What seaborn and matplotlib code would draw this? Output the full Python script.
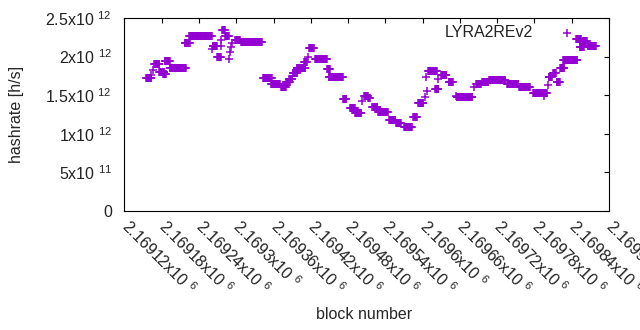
import numpy as np
import pandas as pd
import matplotlib
matplotlib.use("Agg")
import matplotlib.pyplot as plt
import seaborn as sns

# ---- data (plateaus of hashrate; values in 1e12 h/s) ----
seg_start = [2169155, 2169163, 2169166, 2169168, 2169176, 2169182, 2169185, 2169193,
             2169217, 2169224, 2169261, 2169262, 2169269, 2169275, 2169276, 2169277,
             2169282, 2169288, 2169290, 2169291, 2169293, 2169298, 2169308, 2169343,
             2169356, 2169372, 2169380, 2169385, 2169391, 2169397, 2169409, 2169416,
             2169417, 2169427, 2169446, 2169449, 2169472, 2169483, 2169491, 2169503,
             2169506, 2169512, 2169519, 2169528, 2169546, 2169557, 2169570, 2169585,
             2169593, 2169604, 2169605, 2169607, 2169609, 2169620, 2169625, 2169630,
             2169642, 2169653, 2169655, 2169682, 2169686, 2169696, 2169707, 2169736,
             2169755, 2169778, 2169796, 2169802, 2169803, 2169810, 2169816, 2169821,
             2169826, 2169847, 2169853, 2169858, 2169866]
seg_end = [2169163, 2169163, 2169166, 2169176, 2169184, 2169187, 2169193, 2169219,
           2169225, 2169261, 2169261, 2169269, 2169275, 2169275, 2169276, 2169282,
           2169288, 2169288, 2169290, 2169291, 2169293, 2169306, 2169341, 2169357,
           2169370, 2169380, 2169386, 2169390, 2169398, 2169411, 2169414, 2169416,
           2169425, 2169446, 2169451, 2169472, 2169477, 2169491, 2169501, 2169503,
           2169512, 2169515, 2169527, 2169544, 2169556, 2169565, 2169583, 2169591,
           2169601, 2169604, 2169605, 2169607, 2169623, 2169625, 2169625, 2169638,
           2169649, 2169653, 2169680, 2169682, 2169694, 2169706, 2169733, 2169754,
           2169773, 2169800, 2169796, 2169802, 2169808, 2169814, 2169821, 2169828,
           2169849, 2169855, 2169860, 2169864, 2169879]
seg_hashrate = [1.72, 1.76, 1.83, 1.90, 1.80, 1.775, 1.94, 1.85,
                2.18, 2.265, 2.095, 2.14, 1.99, 2.14, 2.215, 2.34,
                2.27, 1.97, 2.06, 2.12, 2.18, 2.215, 2.185, 1.72,
                1.64, 1.61, 1.675, 1.705, 1.785, 1.85, 1.935, 2.00,
                2.11, 1.965, 1.835, 1.73, 1.45, 1.33, 1.265, 1.425,
                1.495, 1.46, 1.35, 1.28, 1.18, 1.135, 1.09, 1.22,
                1.40, 1.48, 1.74, 1.56, 1.81, 1.575, 1.705, 1.76,
                1.665, 1.49, 1.475, 1.61, 1.645, 1.675, 1.70, 1.645,
                1.60, 1.53, 1.49, 1.63, 1.74, 1.79, 1.675, 1.855,
                1.95, 2.225, 2.13, 2.205, 2.135]
series_name = "LYRA2REv2"

x_ticks = [2169120, 2169180, 2169240, 2169300, 2169360, 2169420, 2169480,
           2169540, 2169600, 2169660, 2169720, 2169780, 2169840, 2169900]
x_tick_labels = ["2.16912x10 $^{6}$", "2.16918x10 $^{6}$", "2.16924x10 $^{6}$",
                 "2.1693x10 $^{6}$", "2.16936x10 $^{6}$", "2.16942x10 $^{6}$",
                 "2.16948x10 $^{6}$", "2.16954x10 $^{6}$", "2.1696x10 $^{6}$",
                 "2.16966x10 $^{6}$", "2.16972x10 $^{6}$", "2.16978x10 $^{6}$",
                 "2.16984x10 $^{6}$", "2.1699x10 $^{6}$"]
y_ticks = [0, 0.5e12, 1.0e12, 1.5e12, 2.0e12, 2.5e12]
y_tick_labels = ["0", "5x10 $^{11}$", "1x10 $^{12}$", "1.5x10 $^{12}$",
                 "2x10 $^{12}$", "2.5x10 $^{12}$"]

# one point per block inside each plateau
blocks, rates = [], []
for s, e, v in zip(seg_start, seg_end, seg_hashrate):
    for b in range(s, e + 1):
        blocks.append(b)
        rates.append(v * 1e12)
df = pd.DataFrame({"block": blocks, "hashrate": rates})

sns.set_style("white")
plt.rcParams.update({
    "font.family": ["Liberation Sans", "DejaVu Sans"],
    "font.size": 11.5,
    "mathtext.fontset": "custom",
    "mathtext.rm": "Liberation Sans",
    "mathtext.it": "Liberation Sans:italic",
    "mathtext.bf": "Liberation Sans:bold",
    "mathtext.default": "regular",
    "text.color": "#222222",
})

fig = plt.figure(figsize=(6.4, 3.3), dpi=100)
ax = fig.add_axes([0.1945, 0.3606, 0.757, 0.5848])

sns.scatterplot(data=df, x="block", y="hashrate", marker="+", s=38,
                color="#9400D3", linewidth=1.1, label=series_name, ax=ax)

ax.set_xlim(2169120, 2169900)
ax.set_ylim(0, 2.5e12)
ax.set_xticks(x_ticks)
ax.set_xticklabels(x_tick_labels, rotation=-45, ha="left", va="center",
                   rotation_mode="anchor", color="#222222")
ax.set_yticks(y_ticks)
ax.set_yticklabels(y_tick_labels, color="#222222")

for sp in ax.spines.values():
    sp.set_visible(True)
    sp.set_color("black")
    sp.set_linewidth(0.8)
ax.tick_params(axis="both", direction="in", length=3.5, width=0.8,
               top=True, right=True, colors="black", labelcolor="#222222")
ax.tick_params(axis="y", pad=9)
ax.tick_params(axis="x", pad=9)

ax.set_xlabel("block number")
ax.set_ylabel("hashrate [h/s]")
ax.xaxis.set_label_coords(0.494, -0.50)
ax.yaxis.set_label_coords(-0.207, 0.5)

leg = ax.legend(loc="upper right", bbox_to_anchor=(0.9596, 0.995), borderaxespad=0,
                markerfirst=False, frameon=False, handletextpad=1.12,
                handlelength=2.0, fontsize=11.5)

fig.savefig("out.png", dpi=100)
